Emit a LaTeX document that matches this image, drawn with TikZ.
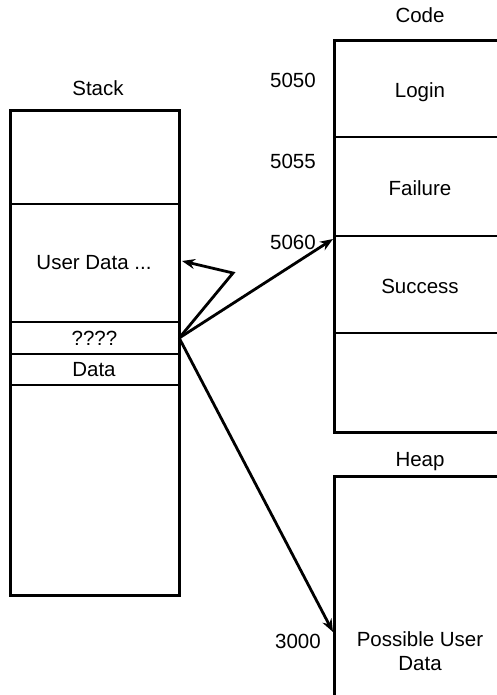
\documentclass[tikz,border=0pt]{standalone}
\usepackage{fontspec}
\setmainfont{Liberation Sans}
\usetikzlibrary{arrows.meta}
\begin{document}
\begin{tikzpicture}[x=1pt,y=-1pt,
  box/.style={line width=3pt,line cap=rect},
  divider/.style={line width=2.4pt},
  lbl/.style={font=\fontsize{20.5}{23.5}\selectfont,inner sep=0pt,align=center},
  arr/.style={line width=2.8pt,-{Stealth[length=13pt,width=10pt]}}]
\useasboundingbox (0,0) rectangle (496,695);
% ---------- Stack ----------
\node[lbl] (stacklbl) at (98,88) {Stack};
\draw[box] (10,111) rectangle (179,595);
\draw[divider] (10,204) -- (179,204);
\draw[divider] (10,322) -- (179,322);
\draw[divider] (10,354) -- (179,354);
\draw[divider] (10,385) -- (179,385);
\node[lbl] (userdata) at (94,263) {User Data ...};
\node[lbl,minimum width=169pt,minimum height=32pt] (q) at (94.5,338) {????};
\node[lbl] (data) at (94,370) {Data};
% ---------- Code ----------
\node[lbl] (codelbl) at (420,15) {Code};
\draw[box] (500,41) -- (334,41) -- (334,432) -- (500,432);
\draw[divider] (334,137) -- (500,137);
\draw[divider] (334,236) -- (500,236);
\draw[divider] (334,333) -- (500,333);
\node[lbl] (login) at (420,92) {Login};
\node[lbl] (failure) at (420,188) {Failure};
\node[lbl] (success) at (420,286) {Success};
\node[lbl] (a5050) at (293,80) {5050};
\node[lbl] (a5055) at (293,161) {5055};
\node[lbl] (a5060) at (293,242) {5060};
% ---------- Heap ----------
\node[lbl] (heaplbl) at (420,462) {Heap};
\draw[box] (500,476) -- (334,476) -- (334,700);
\node[lbl] (possible) at (420,651) {Possible User\\Data};
\node[lbl] (a3000) at (298,641) {3000};
% ---------- Arrows ----------
\coordinate (c5060) at (333,239);
\coordinate (h3000) at (333,632);
\coordinate (bend) at (233,273);
\coordinate (back) at (182,261);
\draw[arr] (q.east) -- (c5060);
\draw[arr] (q.east) -- (h3000);
\draw[arr,line join=miter] (q.east) -- (bend) -- (back);
\end{tikzpicture}
\end{document}
